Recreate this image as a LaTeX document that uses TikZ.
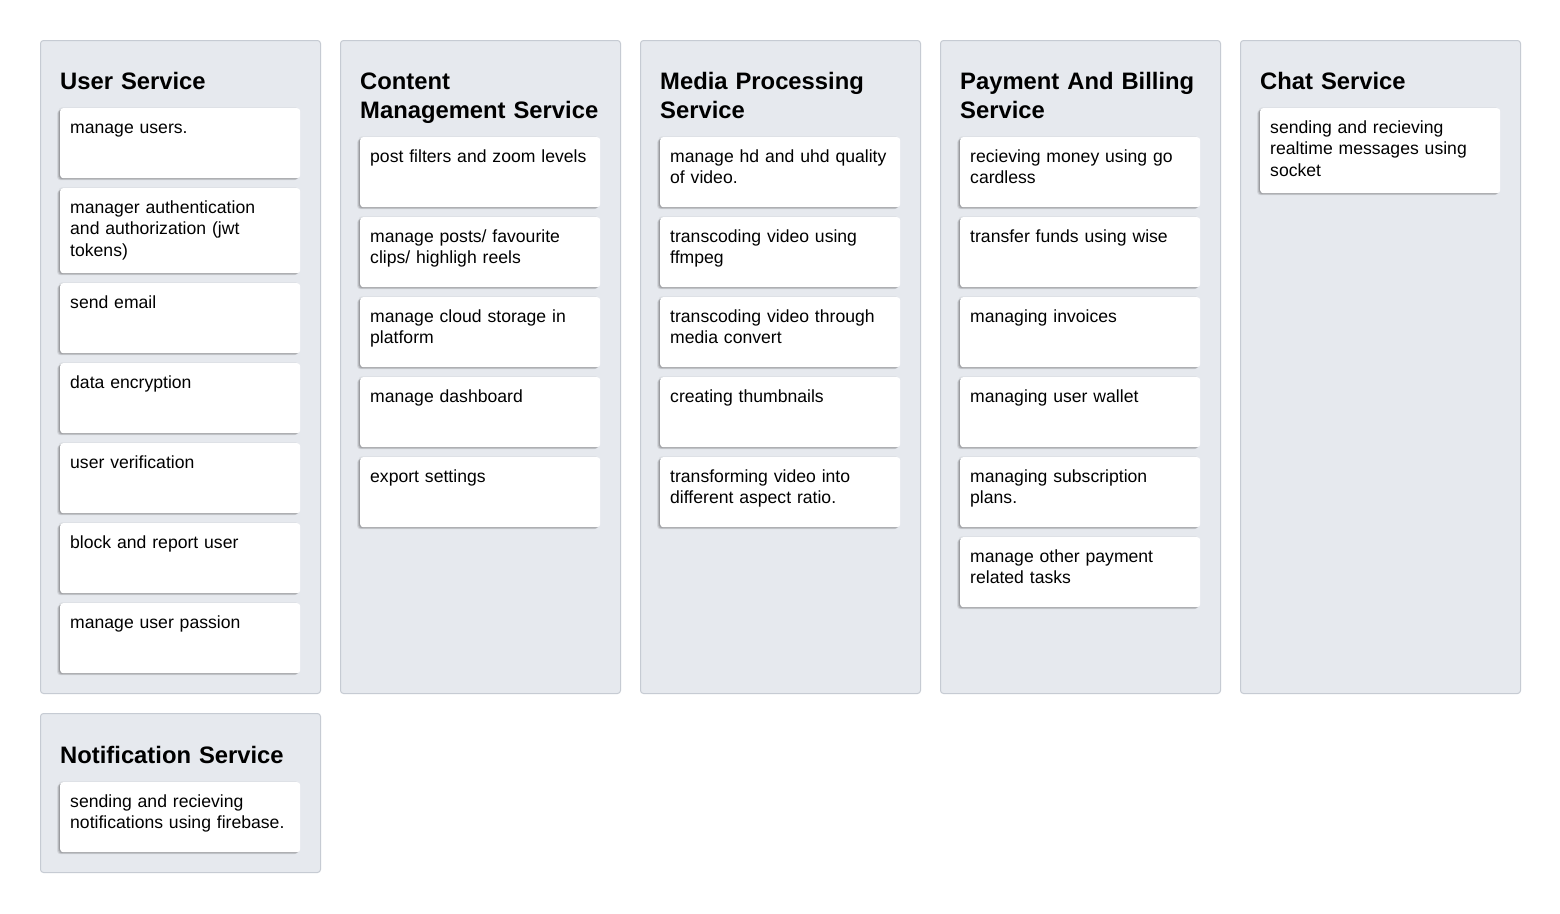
\documentclass[tikz,border=0pt]{standalone}
\usepackage{fontspec}
\setmainfont{Liberation Sans}
\usetikzlibrary{shadows}
\definecolor{panelfill}{HTML}{E6E9EE}
\definecolor{paneledge}{HTML}{C6CBD3}
\tikzset{
  panelbox/.style={draw=paneledge, fill=panelfill, line width=1pt, rounded corners=3pt, inner sep=0pt, anchor=north west, minimum width=280pt},
  cardbox/.style={fill=white, rounded corners=3pt, inner sep=0pt, anchor=north west, minimum width=240pt,
    general shadow={fill=black, opacity=0.12, shadow xshift=-1pt, shadow yshift=-1pt},
    general shadow={fill=black, opacity=0.12, shadow xshift=-2pt, shadow yshift=-1.5pt},
    general shadow={fill=black, opacity=0.08, shadow xshift=-3pt, shadow yshift=-2pt},
    general shadow={fill=black, opacity=0.05, shadow xshift=-1.5pt, shadow yshift=0.8pt}},
  cardtext/.style={font=\fontsize{17.6}{21.6}\selectfont, text width=222pt, align=left, inner sep=0pt, anchor=base west},
  titletext/.style={font=\fontsize{23.8}{29}\selectfont\bfseries, text width=260pt, align=left, inner sep=0pt, anchor=base west}
}
\newcommand{\svccard}[5]{%
  \node[cardbox, minimum height=#4pt] (#1) at (#2,#3) {};
  \node[cardtext] (#1t) at ([xshift=10pt,yshift=-25pt]#1.north west) {#5};
}
\begin{document}
\begin{tikzpicture}[x=1pt,y=-1pt]
\useasboundingbox (0,0) rectangle (1560,913);
\fill[white] (0,0) rectangle (1560,913);
% panels
\node[panelbox, minimum height=653pt] (p1) at (40,40) {};
\node[panelbox, minimum height=653pt] (p2) at (340,40) {};
\node[panelbox, minimum height=653pt] (p3) at (640,40) {};
\node[panelbox, minimum height=653pt] (p4) at (940,40) {};
\node[panelbox, minimum height=653pt] (p5) at (1240,40) {};
\node[panelbox, minimum height=159pt] (p6) at (40,713) {};
% titles
\node[titletext] (t1) at (60,89) {User Service};
\node[titletext] (t2) at (360,89) {Content\\Management Service};
\node[titletext] (t3) at (660,89) {Media Processing\\Service};
\node[titletext] (t4) at (960,89) {Payment And Billing\\Service};
\node[titletext] (t5) at (1260,89) {Chat Service};
\node[titletext] (t6) at (60,763) {Notification Service};
% user service
\svccard{u1}{60}{108}{70}{manage users.}
\svccard{u2}{60}{188}{85}{manager authentication\\and authorization (jwt\\tokens)}
\svccard{u3}{60}{283}{70}{send email}
\svccard{u4}{60}{363}{70}{data encryption}
\svccard{u5}{60}{443}{70}{user verification}
\svccard{u6}{60}{523}{70}{block and report user}
\svccard{u7}{60}{603}{70}{manage user passion}
% content management
\svccard{c1}{360}{137}{70}{post filters and zoom levels}
\svccard{c2}{360}{217}{70}{manage posts/ favourite\\clips/ highligh reels}
\svccard{c3}{360}{297}{70}{manage cloud storage in\\platform}
\svccard{c4}{360}{377}{70}{manage dashboard}
\svccard{c5}{360}{457}{70}{export settings}
% media processing
\svccard{m1}{660}{137}{70}{manage hd and uhd quality\\of video.}
\svccard{m2}{660}{217}{70}{transcoding video using\\ffmpeg}
\svccard{m3}{660}{297}{70}{transcoding video through\\media convert}
\svccard{m4}{660}{377}{70}{creating thumbnails}
\svccard{m5}{660}{457}{70}{transforming video into\\different aspect ratio.}
% payment
\svccard{b1}{960}{137}{70}{recieving money using go\\cardless}
\svccard{b2}{960}{217}{70}{transfer funds using wise}
\svccard{b3}{960}{297}{70}{managing invoices}
\svccard{b4}{960}{377}{70}{managing user wallet}
\svccard{b5}{960}{457}{70}{managing subscription\\plans.}
\svccard{b6}{960}{537}{70}{manage other payment\\related tasks}
% chat
\svccard{h1}{1260}{108}{85}{sending and recieving\\realtime messages using\\socket}
% notification
\svccard{n1}{60}{782}{70}{sending and recieving\\notifications using firebase.}
\end{tikzpicture}
\end{document}
